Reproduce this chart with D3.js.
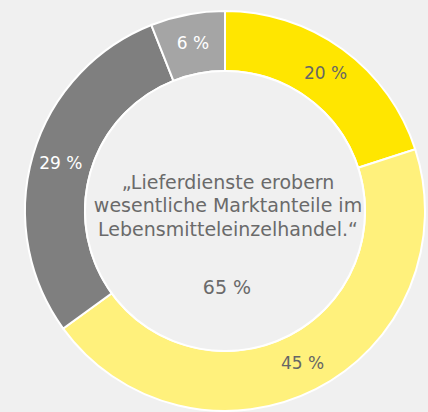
<!DOCTYPE html>
<html>
<head>
<meta charset="utf-8">
<script src="https://cdn.jsdelivr.net/npm/d3@7"></script>
<style>
  body { margin: 0; background: #f0f0f0; }
  text { font-family: "DejaVu Sans", sans-serif; }
</style>
</head>
<body>
<svg width="428" height="412"></svg>
<script>
// data
var labels = ["20 %", "45 %", "29 %", "6 %"];
var values = [20, 45, 29, 6];
var colors = ["#ffe600", "#fff17c", "#7f7f7f", "#a5a5a5"];
var labelColors = ["#666666", "#666666", "#ffffff", "#ffffff"];
var quoteLines = ["\u201eLieferdienste erobern", "wesentliche Marktanteile im", "Lebensmitteleinzelhandel.\u201c"];
var centerValue = "65 %";

function main() {
    var svg = d3.select("svg"),
        cx = 225,
        cy = 211,
        outer = 200,
        inner = 140;

    var g = svg.append("g")
        .attr("transform", "translate(" + cx + "," + cy + ")");

    var data = values.map(function(v, i) {
        return { value: v, label: labels[i], color: colors[i], textColor: labelColors[i] };
    });

    var pie = d3.pie().sort(null).value(function(d) { return d.value; });
    var arc = d3.arc().outerRadius(outer).innerRadius(inner);
    var labelArc = d3.arc().outerRadius(171).innerRadius(171);

    var slices = g.selectAll(".arc")
        .data(pie(data))
        .enter().append("g")
        .attr("class", "arc");

    slices.append("path")
        .attr("d", arc)
        .attr("fill", function(d) { return d.data.color; })
        .attr("stroke", "#ffffff")
        .attr("stroke-width", 2);

    slices.append("text")
        .attr("transform", function(d) { return "translate(" + labelArc.centroid(d) + ")"; })
        .attr("text-anchor", "middle")
        .attr("dy", "0.35em")
        .style("font-size", "17px")
        .attr("fill", function(d) { return d.data.textColor; })
        .text(function(d) { return d.data.label; });

    // hole in the middle
    g.append("circle")
        .attr("r", inner)
        .attr("fill", "#f0f0f0")
        .attr("stroke", "#ffffff")
        .attr("stroke-width", 2);

    g.selectAll(".quote")
        .data(quoteLines)
        .enter().append("text")
        .attr("class", "quote")
        .attr("x", 3)
        .attr("y", function(d, i) { return -29 + i * 23.5; })
        .attr("dy", "0.35em")
        .attr("text-anchor", "middle")
        .attr("fill", "#6a6a6a")
        .style("font-size", "19px")
        .text(function(d) { return d; });

    g.append("text")
        .attr("x", 2)
        .attr("y", 76)
        .attr("dy", "0.35em")
        .attr("text-anchor", "middle")
        .attr("fill", "#6a6a6a")
        .style("font-size", "19px")
        .text(centerValue);
}
main();
</script>
</body>
</html>
